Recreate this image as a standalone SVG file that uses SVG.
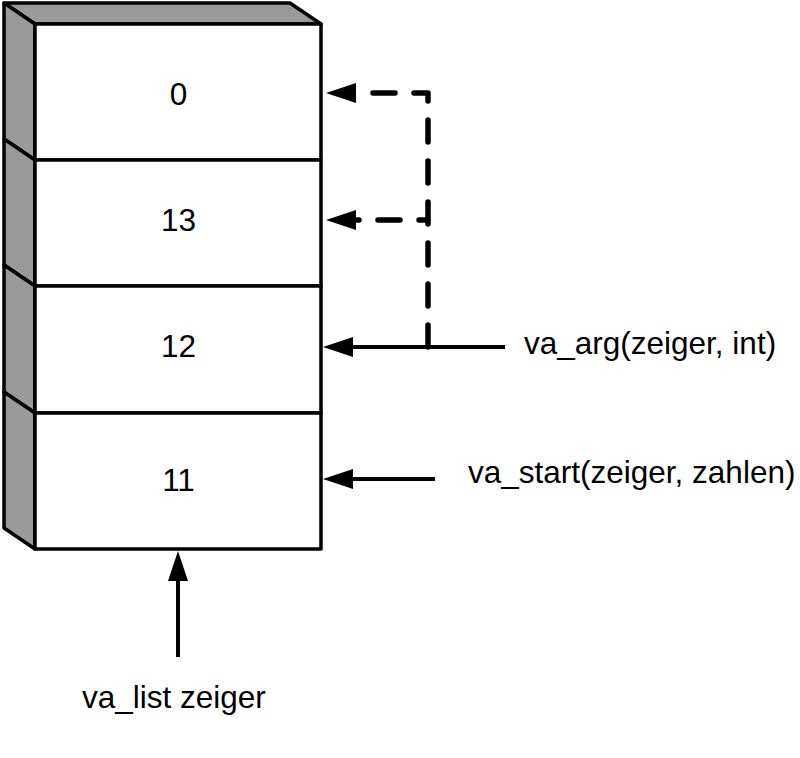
<svg xmlns="http://www.w3.org/2000/svg" width="800" height="758" viewBox="0 0 800 758">
<style>
.face{fill:#ffffff;stroke:#000;stroke-width:3.5;stroke-linejoin:round}
.side{fill:#9a9a9a;stroke:#000;stroke-width:3.5;stroke-linejoin:round}
.num{font-family:"Liberation Sans",Arial,sans-serif;font-size:31.5px;fill:#000;text-anchor:middle}
.lbl{font-family:"Liberation Sans",Arial,sans-serif;font-size:31.5px;fill:#000}
.solid{fill:none;stroke:#000;stroke-width:4}
.dash{fill:none;stroke:#000;stroke-width:5.5;stroke-dasharray:22 19;stroke-linecap:round;stroke-linejoin:round}
</style>
<defs>
<marker id="ah" viewBox="0 0 30 20" refX="0" refY="10" markerWidth="30" markerHeight="20" markerUnits="userSpaceOnUse" orient="auto">
<path d="M0,0 L30,10 L0,20 Z" fill="#000" stroke="none"/>
</marker>
</defs>
<rect width="800" height="758" fill="#ffffff"/>
<g id="box-0">
<polygon class="side" points="4,3 290,3 321,24 35,24"/>
<polygon class="side" points="4,3 35,24 35,160 4,139"/>
<rect class="face" x="35" y="24" width="286" height="136"/>
<text class="num" x="178.5" y="105">0</text>
</g>
<g id="box-13">
<polygon class="side" points="4,139 35,160 35,286 4,265"/>
<rect class="face" x="35" y="160" width="286" height="126"/>
<text class="num" x="178.5" y="231">13</text>
</g>
<g id="box-12">
<polygon class="side" points="4,265 35,286 35,413 4,392"/>
<rect class="face" x="35" y="286" width="286" height="127"/>
<text class="num" x="178.5" y="357">12</text>
</g>
<g id="box-11">
<polygon class="side" points="4,392 35,413 35,549 4,528"/>
<rect class="face" x="35" y="413" width="286" height="136"/>
<text class="num" x="178.5" y="491">11</text>
</g>
<g id="connectors">
<path class="solid" d="M505,347 H353" marker-end="url(#ah)"/>
<path class="solid" d="M435,479 H353" marker-end="url(#ah)"/>
<path class="solid" d="M178,657 V581" marker-end="url(#ah)"/>
<path class="dash" d="M428,347 V93 H356" marker-end="url(#ah)"/>
<path class="dash" style="stroke-dashoffset:13" d="M428,220 H356" marker-end="url(#ah)"/>
</g>
<g id="label-va-arg"><text class="lbl" x="524" y="354">va_arg(zeiger, int)</text></g>
<g id="label-va-start"><text class="lbl" x="468" y="483">va_start(zeiger, zahlen)</text></g>
<g id="label-va-list"><text class="lbl" x="82" y="708">va_list zeiger</text></g>
</svg>
